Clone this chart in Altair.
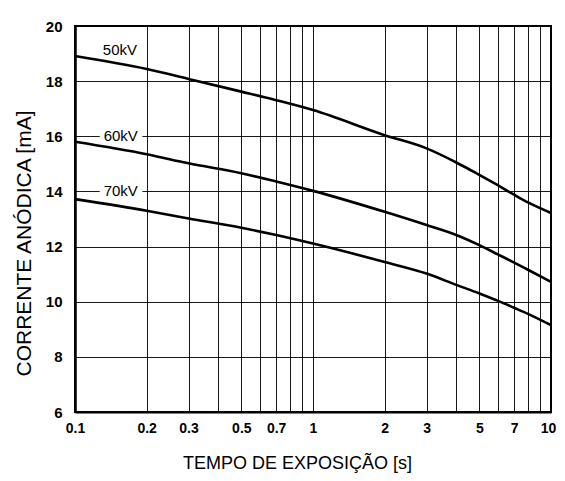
import altair as alt
import pandas as pd

# exposure time [s]
times = [0.1, 0.2, 0.3, 0.5, 0.7, 1, 2, 3, 4, 5, 6, 7, 8, 10]
# anode current [mA]
ma_50kv = [18.91, 18.44, 18.08, 17.62, 17.31, 16.95, 16.04, 15.56, 15.05, 14.60, 14.22, 13.88, 13.60, 13.22]
ma_60kv = [15.80, 15.35, 15.02, 14.66, 14.36, 14.02, 13.26, 12.78, 12.42, 12.05, 11.71, 11.42, 11.16, 10.72]
ma_70kv = [13.72, 13.30, 13.02, 12.68, 12.42, 12.11, 11.44, 11.02, 10.61, 10.30, 10.03, 9.78, 9.56, 9.15]

series_names = ["50kV", "60kV", "70kV"]
series_values = [ma_50kv, ma_60kv, ma_70kv]

grid_x = [0.1, 0.2, 0.3, 0.4, 0.5, 0.6, 0.7, 0.8, 0.9,
          1, 2, 3, 4, 5, 6, 7, 8, 9, 10]
label_x = ["0.1", "0.2", "0.3", "0.5", "0.7", "1", "2", "3", "5", "7", "10"]
grid_y = [6, 8, 10, 12, 14, 16, 18, 20]

# curve labels
lab_text = ["50kV", "60kV", "70kV"]
lab_x = [0.1545, 0.1557, 0.1557]
lab_y = [19.13, 16.0, 14.0]
# white gaps in gridlines behind the 60kV / 70kV labels
gap_x1 = [0.127, 0.127]
gap_x2 = [0.192, 0.192]
gap_y1 = [15.7, 13.7]
gap_y2 = [16.3, 14.3]

rows = []
for name, vals in zip(series_names, series_values):
    for t, v in zip(times, vals):
        rows.append({"t": t, "mA": v, "s": name})
df = pd.DataFrame(rows)

lab_df = pd.DataFrame({"text": lab_text, "x": lab_x, "y": lab_y})
gap_df = pd.DataFrame({"x1": gap_x1, "x2": gap_x2, "y1": gap_y1, "y2": gap_y2})

label_list = "[" + ",".join("'" + l + "'" for l in label_x) + "]"

xscale = alt.Scale(type="log", domain=[0.1, 10], nice=False)
yscale = alt.Scale(domain=[6, 20], nice=False, zero=False)

xaxis = alt.Axis(
    values=grid_x, format="~g", title="TEMPO DE EXPOSIÇÃO [s]",
    labelExpr=f"indexof({label_list}, datum.label) >= 0 ? datum.label : ''",
    labelOffset={"expr": "datum.value >= 10 ? -3 : 0"},
    grid=True, gridColor="black", gridWidth=1, gridOpacity=0.9,
    ticks=False, domainColor="black", domainWidth=2,
    labelFont="Liberation Sans", labelFontSize=14, labelFontWeight="bold",
    labelColor="black", labelPadding=9, labelFlush=False, labelOverlap=False,
    titleFont="Liberation Sans", titleFontSize=18, titleFontWeight="normal",
    titleColor="black", titleX=222, titleY=56, titleBaseline="alphabetic",
    titleAnchor="start", titleAlign="center",
)
yaxis = alt.Axis(
    values=grid_y, title="CORRENTE ANÓDICA [mA]",
    grid=True, gridColor="black", gridWidth=1, gridOpacity=0.9,
    ticks=False, domainColor="black", domainWidth=2.5,
    labelFont="Liberation Sans", labelFontSize=15, labelFontWeight="bold",
    labelColor="black", labelPadding=13,
    titleFont="Liberation Sans", titleFontSize=21, titleFontWeight="normal",
    titleColor="black", titleX=-45, titleY=217, titleBaseline="alphabetic",
    titleAngle=270, titleAnchor="start", titleAlign="center",
)

lines = alt.Chart(df).mark_line(color="black", strokeWidth=2.6, interpolate="monotone").encode(
    x=alt.X("t:Q", scale=xscale, axis=xaxis),
    y=alt.Y("mA:Q", scale=yscale, axis=yaxis),
    detail="s:N",
)

gaps = alt.Chart(gap_df).mark_rect(color="white").encode(
    x=alt.X("x1:Q", scale=xscale), x2="x2:Q",
    y=alt.Y("y1:Q", scale=yscale), y2="y2:Q",
)

texts = alt.Chart(lab_df).mark_text(
    font="Liberation Sans", fontSize=15, color="black", align="center", baseline="middle"
).encode(
    x=alt.X("x:Q", scale=xscale),
    y=alt.Y("y:Q", scale=yscale),
    text="text:N",
)

chart = alt.layer(gaps, lines, texts).properties(
    width=476, height=386,
    autosize=alt.AutoSizeParams(type="none"),
    padding={"left": 67, "top": 18, "right": 6, "bottom": 61},
    background="white",
).configure_view(stroke="black", strokeWidth=2)

chart.save("out.html", embed_options={"renderer": "svg", "actions": False})
